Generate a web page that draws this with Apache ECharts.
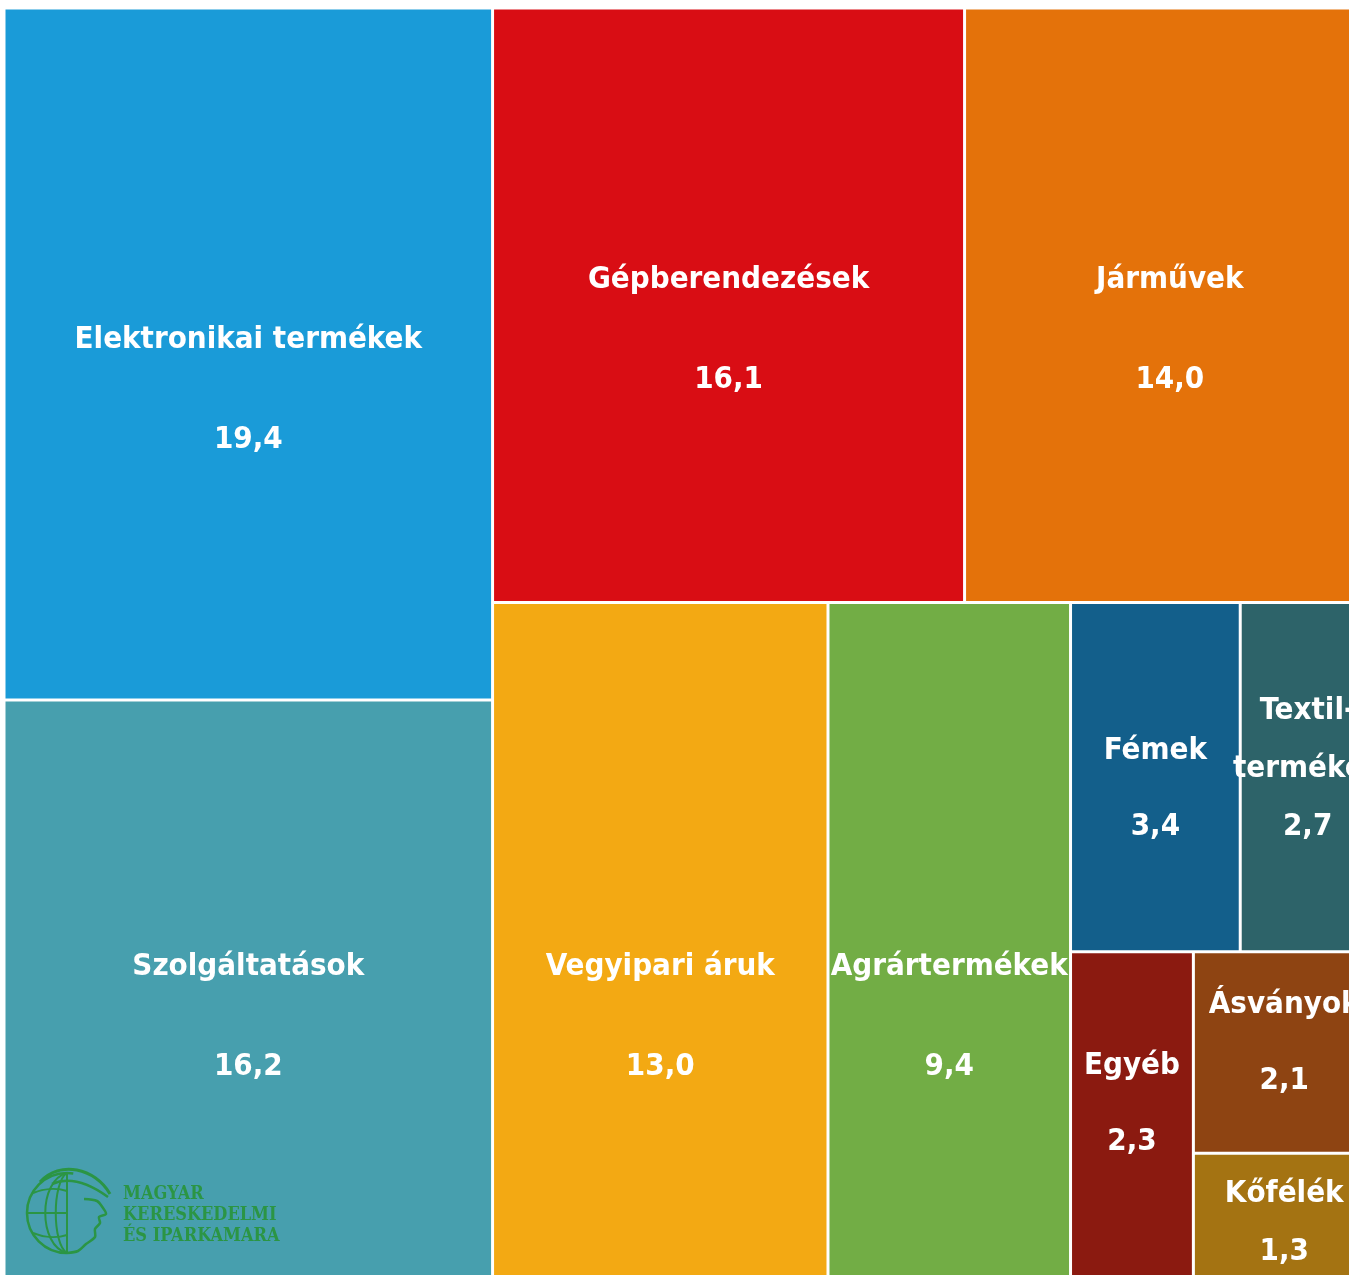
<!DOCTYPE html>
<html style="height: 100%">
<head>
    <meta charset="utf-8">
    <script src="https://cdn.jsdelivr.net/npm/echarts@6/dist/echarts.min.js"></script>
</head>
<body style="height: 100%; margin: 0; background: #fff">
    <div id="main" style="width: 1349px; height: 1275px"></div>
    <script type="text/javascript">
        var names = ['Elektronikai termékek', 'Szolgáltatások', 'Gépberendezések', 'Járművek',
            'Vegyipari áruk', 'Agrártermékek', 'Fémek', 'Textil-termékek', 'Egyéb', 'Ásványok', 'Kőfélék'];
        var values = [19.4, 16.2, 16.1, 14.0, 13.0, 9.4, 3.4, 2.7, 2.3, 2.1, 1.3];
        var colors = ['#1a9bd8', '#479fae', '#d90d14', '#e4720a', '#f3a913', '#72ad45',
            '#135f8b', '#2d6369', '#8b1a10', '#8e4412', '#a47312'];

        // nesting of the cells (indexes into names) so the squarify layout keeps the poster's arrangement
        var groups = [0, 1, [2, 3, [[4, 5], [6, 7, 8, [9, 10]]]]];

        // treemap puts the label block at the top of its cell, push it down like on the poster (px)
        var labelShift = {
            'Elektronikai termékek': 280, 'Szolgáltatások': 215, 'Gépberendezések': 220, 'Járművek': 220,
            'Vegyipari áruk': 313, 'Agrártermékek': 313, 'Fémek': 109, 'Textil-termékek': 78,
            'Egyéb': 75, 'Ásványok': 14, 'Kőfélék': 10
        };

        function fmt(v) {
            return v.toFixed(1).replace('.', ',');
        }

        function build(t) {
            if (typeof t === 'number') {
                return {
                    name: names[t],
                    value: values[t],
                    itemStyle: { color: colors[t], borderWidth: 1.5, borderColor: '#fff' },
                    label: { offset: [0, labelShift[names[t]] || 0] }
                };
            }
            return { name: '', children: t.map(build) };
        }

        var chartDom = document.getElementById('main');
        var myChart = echarts.init(chartDom);
        var font = "'DejaVu Sans Condensed', 'Liberation Sans Narrow', sans-serif";
        var green = '#2b9544';
        var lbl = { fontSize: 31, color: '#fff', fontFamily: font, fontWeight: 'bold' };

        var option = {
            backgroundColor: '#fff',
            animation: false,
            series: [{
                type: 'treemap',
                left: 4,
                top: 8,
                width: 1371,
                height: 1270,
                sort: false,
                roam: false,
                nodeClick: false,
                breadcrumb: { show: false },
                itemStyle: { borderWidth: 0, gapWidth: 0 },
                label: {
                    show: true,
                    position: 'inside',
                    padding: 0,
                    overflow: 'none',
                    color: '#fff',
                    fontFamily: font,
                    fontWeight: 'bold',
                    formatter: function (p) {
                        var v = fmt(p.value);
                        if (p.name.indexOf('-') > 0) {
                            return '{t|' + p.name.replace('-', '-}\n{t|') + '}\n{t|' + v + '}';
                        }
                        var s = p.value >= 9 ? 'b' : (p.value < 2 ? 't' : 's');
                        return '{' + s + '|' + p.name + '}\n{' + s + '|' + v + '}';
                    },
                    rich: {
                        b: Object.assign({ lineHeight: 100 }, lbl),
                        s: Object.assign({ lineHeight: 76 }, lbl),
                        t: Object.assign({ lineHeight: 58 }, lbl)
                    }
                },
                data: groups.map(build)
            }],
            graphic: [{
                type: 'group',
                silent: true,
                z: 100,
                children: [
                    { type: 'arc', z: 100, shape: { cx: 67, cy: 1213, r: 40, startAngle: Math.PI * 0.5, endAngle: Math.PI * 1.55, clockwise: true },
                        style: { stroke: green, lineWidth: 2.5, fill: null } },
                    { type: 'bezierCurve', z: 100, shape: { x1: 67, y1: 1173, cpx1: 38, cpy1: 1180, cpx2: 38, cpy2: 1246, x2: 67, y2: 1253 },
                        style: { stroke: green, lineWidth: 2, fill: null } },
                    { type: 'bezierCurve', z: 100, shape: { x1: 67, y1: 1173, cpx1: 52, cpy1: 1182, cpx2: 52, cpy2: 1244, x2: 67, y2: 1253 },
                        style: { stroke: green, lineWidth: 2, fill: null } },
                    { type: 'line', z: 100, shape: { x1: 67, y1: 1173, x2: 67, y2: 1253 }, style: { stroke: green, lineWidth: 2 } },
                    { type: 'bezierCurve', z: 100, shape: { x1: 33, y1: 1193, cpx1: 45, cpy1: 1188, cpx2: 58, cpy2: 1188, x2: 67, y2: 1191 },
                        style: { stroke: green, lineWidth: 2, fill: null } },
                    { type: 'line', z: 100, shape: { x1: 27, y1: 1213, x2: 67, y2: 1213 }, style: { stroke: green, lineWidth: 2 } },
                    { type: 'bezierCurve', z: 100, shape: { x1: 33, y1: 1233, cpx1: 45, cpy1: 1238, cpx2: 58, cpy2: 1238, x2: 67, y2: 1235 },
                        style: { stroke: green, lineWidth: 2, fill: null } },
                    { type: 'bezierCurve', z: 100, shape: { x1: 40, y1: 1182, cpx1: 60, cpy1: 1160, cpx2: 95, cpy2: 1168, x2: 110, y2: 1194 },
                        style: { stroke: green, lineWidth: 3, fill: null } },
                    { type: 'bezierCurve', z: 100, shape: { x1: 52, y1: 1184, cpx1: 70, cpy1: 1176, cpx2: 90, cpy2: 1184, x2: 108, y2: 1197 },
                        style: { stroke: green, lineWidth: 2.5, fill: null } },
                    { type: 'polyline', z: 100, shape: { smooth: 0.3, points: [[84, 1199], [97, 1201], [103, 1208], [106, 1214], [99, 1217],
                        [100, 1223], [95, 1229], [95, 1237], [86, 1244], [78, 1251], [67, 1253]] },
                        style: { stroke: green, lineWidth: 2.5, fill: null } },
                    { type: 'text', z: 100, x: 123, y: 1184,
                        style: { text: 'MAGYAR\nKERESKEDELMI\nÉS IPARKAMARA', fill: green,
                            font: '600 18px "DejaVu Serif Condensed", "DejaVu Serif"', lineHeight: 21 } }
                ]
            }]
        };
        myChart.setOption(option);
    </script>
</body>
</html>
